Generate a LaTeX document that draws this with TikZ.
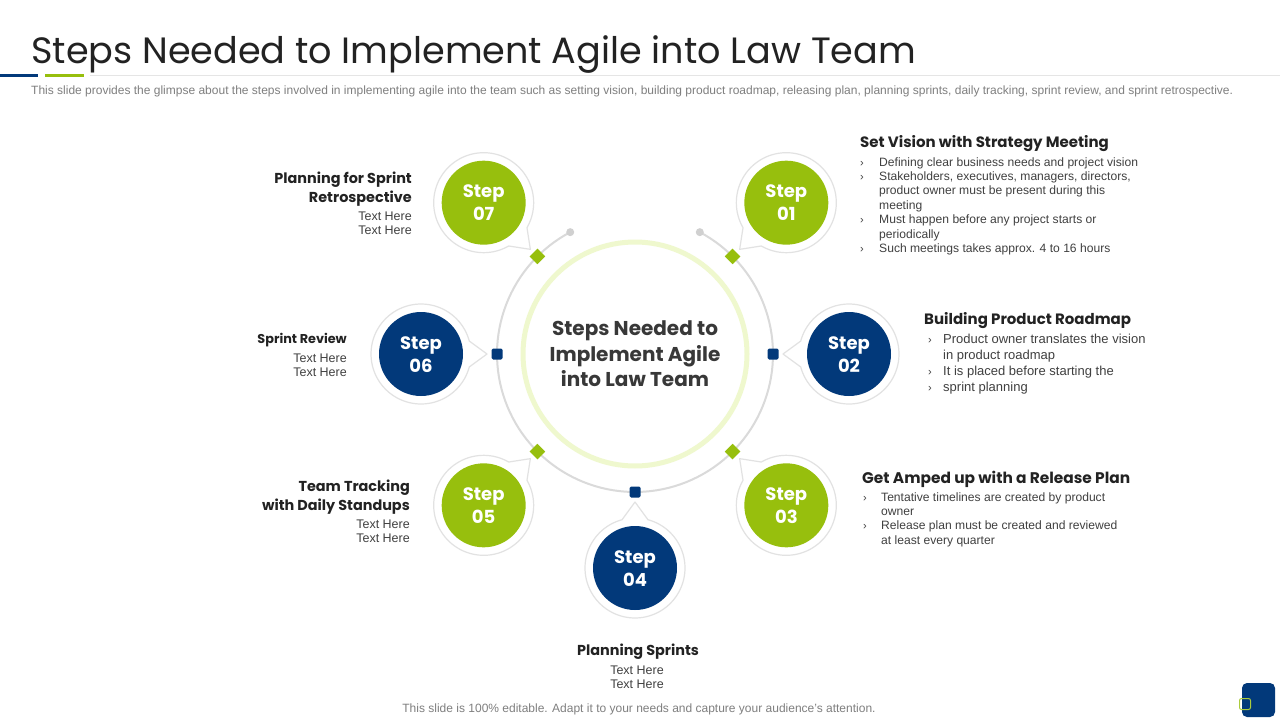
\documentclass[tikz,border=0pt]{standalone}
\usepackage{fontspec}
\setmainfont{Liberation Sans}
\newfontfamily\gothic{Poppins}
\usetikzlibrary{calc}
\definecolor{agreen}{HTML}{97BF0D}
\definecolor{ablue}{HTML}{02397A}
\definecolor{ringgray}{HTML}{DADADA}
\definecolor{dotgray}{HTML}{D0D0D0}
\definecolor{lightring}{HTML}{EFF8CE}
\definecolor{bubgray}{HTML}{E2E2E2}
\definecolor{txtgray}{HTML}{404040}
\definecolor{subgray}{HTML}{7F7F7F}
\definecolor{headdark}{HTML}{222222}
\tikzset{
  bubble/.style={draw=bubgray, line width=1.2, fill=white, line join=round},
  stepdisc/.style={circle, minimum size=84, inner sep=0, draw=none},
  steptxt/.style={inner sep=0, text=white, font=\gothic\bfseries\fontsize{18}{23}\selectfont},
  dmark/.style={fill=agreen, minimum size=11, inner sep=0, rotate=45},
  smark/.style={fill=ablue, minimum size=11, inner sep=0, rounded corners=1.5},
  heading/.style={inner sep=0, text=headdark, font=\gothic\bfseries\fontsize{15}{19}\selectfont},
  lheading/.style={inner sep=0, text=headdark, font=\gothic\bfseries\fontsize{14.4}{19}\selectfont},
  bodytxt/.style={inner sep=0, text=txtgray, font=\fontsize{12.1}{14}\selectfont},
  bodytxtb/.style={inner sep=0, text=txtgray, font=\fontsize{13}{16}\selectfont},
  texthere/.style={inner sep=0, text=txtgray, font=\fontsize{12.5}{16}\selectfont},
  bul/.style={inner sep=0, text=txtgray, font=\fontsize{11}{14}\selectfont},
  ctrtxt/.style={inner sep=0, text=headdark!90, font=\gothic\bfseries\fontsize{20}{25}\selectfont},
}
\begin{document}
\begin{tikzpicture}[x=1pt,y=-1pt]
\useasboundingbox (0,0) rectangle (1280,720);
\fill[white] (0,0) rectangle (1280,720);

% header
\node[anchor=base west, inner sep=0, text=headdark, font=\gothic\fontsize{36.6}{40}\selectfont] (title) at (31,63) {Steps Needed to Implement Agile into Law Team};
\coordinate (h0) at (0,75); \coordinate (h1) at (38,75);
\coordinate (h2) at (45,75); \coordinate (h3) at (84,75);
\coordinate (h4) at (90,75); \coordinate (h5) at (1280,75);
\draw[ablue, line width=3] (h0) -- (h1);
\draw[agreen, line width=3] (h2) -- (h3);
\draw[black!10, line width=1] (h4) -- (h5);
\node[anchor=base west, inner sep=0, text=subgray, font=\fontsize{12}{14}\selectfont] (sub) at (31,94) {This slide provides the glimpse about the steps involved in implementing agile into the team such as setting vision, building product roadmap, releasing plan, planning sprints, daily tracking, sprint review, and sprint retrospective.};

% rings
\coordinate (C) at (635,354);
\draw[lightring, line width=5] (C) circle[radius=112];
\draw[ringgray, line width=2] plot[domain=-62:242, samples=120, variable=\t] ({635+138*cos(\t)},{354+138*sin(\t)});
\coordinate (a0) at ($(C)+(-62:138)$);
\coordinate (a1) at ($(C)+(242:138)$);
\fill[dotgray] (a0) circle[radius=4];
\fill[dotgray] (a1) circle[radius=4];

% bubbles
\foreach \i/\ang/\col/\num in {1/-45/agreen/01, 2/0/ablue/02, 3/45/agreen/03, 4/90/ablue/04, 5/135/agreen/05, 6/180/ablue/06, 7/225/agreen/07} {
  \pgfmathsetmacro\bx{635+214*cos(\ang)}
  \pgfmathsetmacro\by{354+214*sin(\ang)}
  \pgfmathsetmacro\da{\ang+180+15}
  \pgfmathsetmacro\db{\ang+180+345}
  \coordinate (b\i) at (\bx,\by);
  \coordinate (t\i) at ($(C)+(\ang:148)$);
  \draw[bubble] plot[domain=\da:\db, samples=90, variable=\t] ({\bx+50*cos(\t)},{\by+50*sin(\t)}) -- (t\i) -- cycle;
  \node[stepdisc, fill=\col] (s\i) at (b\i) {};
  \node[steptxt, anchor=base] (sa\i) at ($(b\i)+(0,-5)$) {Step};
  \node[steptxt, anchor=base] (sb\i) at ($(b\i)+(0,18)$) {\num};
}

% markers
\foreach \i/\ang in {1/-45,3/45,5/135,7/225}
  \node[dmark] (m\i) at ($(C)+(\ang:138)$) {};
\foreach \i/\ang in {2/0,4/90,6/180}
  \node[smark] (m\i) at ($(C)+(\ang:138)$) {};

% center text
\node[ctrtxt, anchor=base] (c1) at (635,335) {Steps Needed to};
\node[ctrtxt, anchor=base] (c2) at (635,361) {Implement Agile};
\node[ctrtxt, anchor=base] (c3) at (635,386) {into Law Team};

% block 01
\node[heading, anchor=base west] (h01) at (860,147) {Set Vision with Strategy Meeting};
\foreach \y/\t in {166/{Defining clear business needs and project vision},
                   180/{Stakeholders, executives, managers, directors,},
                   194/{product owner must be present during this},
                   209/{meeting},
                   223/{Must happen before any project starts or},
                   238/{periodically},
                   252/{Such meetings takes approx. 4 to 16 hours}}
  \node[bodytxt, anchor=base west] at (879,\y) {\t};
\foreach \y in {166,180,223,252}
  \node[bul, anchor=base west] at (860,\y) {›};

% block 02
\node[heading, anchor=base west] (h02) at (924,324) {Building Product Roadmap};
\foreach \y/\t in {343/{Product owner translates the vision},
                   359/{in product roadmap},
                   375/{It is placed before starting the},
                   391/{sprint planning}}
  \node[bodytxtb, anchor=base west] at (943,\y) {\t};
\foreach \y in {343,375,391}
  \node[bul, anchor=base west] at (928,\y) {›};

% block 03
\node[heading, anchor=base west, font=\gothic\bfseries\fontsize{15.4}{19}\selectfont] (h03) at (862,483) {Get Amped up with a Release Plan};
\foreach \y/\t in {501/{Tentative timelines are created by product},
                   515/{owner},
                   529/{Release plan must be created and reviewed},
                   544/{at least every quarter}}
  \node[bodytxt, anchor=base west] at (881,\y) {\t};
\foreach \y in {501,529}
  \node[bul, anchor=base west] at (863,\y) {›};

% block 07
\node[lheading, anchor=base east] (h07a) at (412,183) {Planning for Sprint};
\node[lheading, anchor=base east] (h07b) at (412,202) {Retrospective};
\node[texthere, anchor=base east] (t07a) at (412,220) {Text Here};
\node[texthere, anchor=base east] (t07b) at (412,234) {Text Here};

% block 06
\node[lheading, anchor=base east, font=\gothic\bfseries\fontsize{12.8}{16}\selectfont] (h06) at (347,343) {Sprint Review};
\node[texthere, anchor=base east] (t06a) at (347,362) {Text Here};
\node[texthere, anchor=base east] (t06b) at (347,376) {Text Here};

% block 05
\node[lheading, anchor=base east] (h05a) at (410,491) {Team Tracking};
\node[lheading, anchor=base east] (h05b) at (410,510) {with Daily Standups};
\node[texthere, anchor=base east] (t05a) at (410,528) {Text Here};
\node[texthere, anchor=base east] (t05b) at (410,542) {Text Here};

% block 04
\node[lheading, anchor=base] (h04) at (638,655) {Planning Sprints};
\node[texthere, anchor=base] (t04a) at (637,674) {Text Here};
\node[texthere, anchor=base] (t04b) at (637,688) {Text Here};

% footer
\node[anchor=base, inner sep=0, text=subgray, font=\fontsize{12}{14}\selectfont] (foot) at (639,712) {This slide is 100\% editable. Adapt it to your needs and capture your audience’s attention.};
\node[fill=ablue, rounded corners=5, minimum width=33, minimum height=34, inner sep=0] (logo) at (1258.5,700) {};
\node[draw=agreen!80, line width=1, rounded corners=2, minimum size=11, inner sep=0] (logo2) at (1245,704) {};
\end{tikzpicture}
\end{document}
